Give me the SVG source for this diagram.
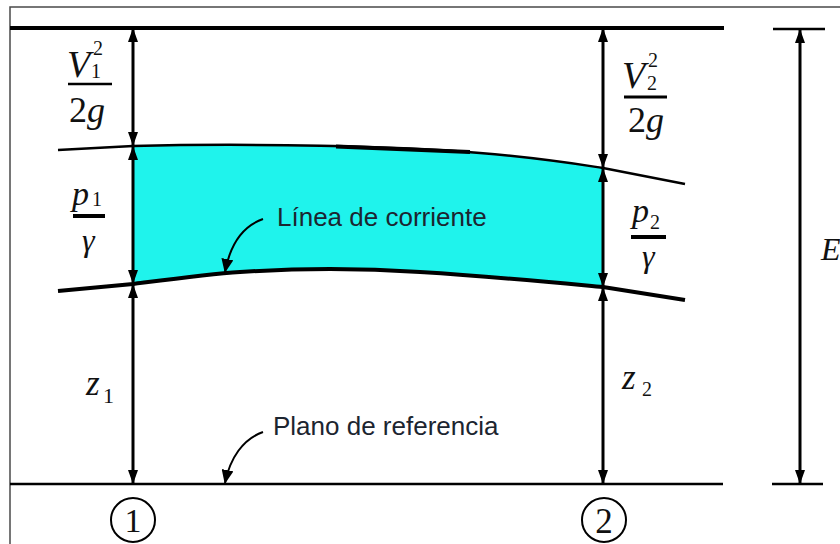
<svg xmlns="http://www.w3.org/2000/svg" width="840" height="544" viewBox="0 0 840 544">
<defs>
<style>
.frame{stroke:#4a4a4a;stroke-width:1.5;fill:none}
.thick{stroke:#000;stroke-width:4;fill:none;stroke-linecap:butt}
.med{stroke:#000;stroke-width:2.5;fill:none}
.dim{stroke:#000;stroke-width:3;fill:none}
.ser{font-family:"Liberation Serif","Times New Roman",serif;fill:#111}
.it{font-style:italic}
.sans{font-family:"Liberation Sans",Arial,sans-serif;font-size:26px;fill:#1c2530}
.bar{stroke:#000;fill:none}
</style>
<marker id="ah" viewBox="0 0 14 10" markerUnits="userSpaceOnUse" markerWidth="14" markerHeight="10" refX="14" refY="5" orient="auto-start-reverse">
<path d="M0,0 L14,5 L0,10 z" fill="#000"/>
</marker>
<marker id="lh" viewBox="0 0 14 12" markerUnits="userSpaceOnUse" markerWidth="14" markerHeight="12" refX="13" refY="6" orient="auto">
<path d="M0,0 L14,6 L0,12 z" fill="#000"/>
</marker>
</defs>
<rect width="840" height="544" fill="#fff"/>
<g id="frame">
<path class="frame" d="M10,544 L10,7 L840,7"/>
</g>
<g id="flow-region">
<path d="M133,146 C250,143 400,146 480,153 C540,158 570,163 603,168 L603,287 C560,283 500,277 420,272 C360,268 300,268 240,272 C210,274 180,278 133,284 Z" fill="#1ff3ec"/>
</g>
<g id="lines">
<line class="thick" x1="10" y1="28" x2="724" y2="28"/>
<line class="med" x1="10" y1="484" x2="723" y2="484"/>
<path class="med" d="M58,150 L133,146 C250,143 400,146 480,153 C540,158 570,163 603,168 L685,184"/>
<path d="M336,146.5 L470,152" stroke="#000" stroke-width="4" fill="none"/>
<path class="thick" d="M58,291 L133,284 C180,278 210,274 240,272 C300,268 360,268 420,272 C500,277 560,283 603,287 L685,300"/>
<line class="med" x1="773" y1="29" x2="825" y2="29"/>
<line class="med" x1="772" y1="484" x2="823" y2="484"/>
</g>
<g id="connectors">
<line class="dim" x1="133" y1="28" x2="133" y2="146" marker-start="url(#ah)" marker-end="url(#ah)"/>
<line class="dim" x1="133" y1="146" x2="133" y2="284" marker-start="url(#ah)" marker-end="url(#ah)"/>
<line class="dim" x1="133" y1="284" x2="133" y2="484" marker-start="url(#ah)" marker-end="url(#ah)"/>
<line class="dim" x1="603" y1="28" x2="603" y2="168" marker-start="url(#ah)" marker-end="url(#ah)"/>
<line class="dim" x1="603" y1="168" x2="603" y2="287" marker-start="url(#ah)" marker-end="url(#ah)"/>
<line class="dim" x1="603" y1="287" x2="603" y2="484" marker-start="url(#ah)" marker-end="url(#ah)"/>
<line class="dim" x1="800" y1="29" x2="800" y2="484" marker-start="url(#ah)" marker-end="url(#ah)"/>
<path d="M263,219 C243,226 230,245 225,272" stroke="#000" stroke-width="2" fill="none" marker-end="url(#lh)"/>
<path d="M263,432 C243,439 230,458 225,483" stroke="#000" stroke-width="2" fill="none" marker-end="url(#lh)"/>
</g>
<g id="label-v1">
<text class="ser it" x="67" y="77" font-size="38">V</text>
<text class="ser" x="91" y="78" font-size="20">1</text>
<text class="ser" x="93" y="55" font-size="20">2</text>
<line class="bar" x1="68" y1="84" x2="112" y2="84" stroke-width="2.5"/>
<text class="ser" x="69" y="122" font-size="36">2<tspan class="it">g</tspan></text>
</g>
<g id="label-p1">
<text class="ser it" x="72" y="205" font-size="34">p</text>
<text class="ser" x="92" y="206" font-size="20">1</text>
<line class="bar" x1="73" y1="216" x2="105" y2="216" stroke-width="4"/>
<text class="ser it" x="82" y="251" font-size="32">γ</text>
</g>
<g id="label-z1">
<text class="ser it" x="86" y="395" font-size="35">z</text>
<text class="ser" x="103" y="403" font-size="22">1</text>
</g>
<g id="label-v2">
<text class="ser it" x="622" y="88" font-size="38">V</text>
<text class="ser" x="647" y="90" font-size="20">2</text>
<text class="ser" x="648" y="67" font-size="20">2</text>
<line class="bar" x1="624" y1="97" x2="667" y2="97" stroke-width="3"/>
<text class="ser" x="628" y="132" font-size="36">2<tspan class="it">g</tspan></text>
</g>
<g id="label-p2">
<text class="ser it" x="632" y="222" font-size="34">p</text>
<text class="ser" x="650" y="229" font-size="20">2</text>
<line class="bar" x1="631" y1="237" x2="666" y2="237" stroke-width="4"/>
<text class="ser it" x="642" y="267" font-size="32">γ</text>
</g>
<g id="label-z2">
<text class="ser it" x="622" y="389" font-size="35">z</text>
<text class="ser" x="642" y="396" font-size="20">2</text>
</g>
<g id="label-E">
<text class="ser it" x="821" y="260" font-size="32">E</text>
</g>
<g id="label-streamline">
<text class="sans" x="277" y="226">Línea de corriente</text>
</g>
<g id="label-plane">
<text class="sans" x="273" y="435">Plano de referencia</text>
</g>
<g id="section-1">
<circle cx="133" cy="520" r="22" fill="none" stroke="#000" stroke-width="2"/>
<text class="ser" x="133" y="532" font-size="34" text-anchor="middle">1</text>
</g>
<g id="section-2">
<circle cx="604" cy="520" r="22" fill="none" stroke="#000" stroke-width="2"/>
<text class="ser" x="604" y="533" font-size="35" text-anchor="middle">2</text>
</g>
</svg>
